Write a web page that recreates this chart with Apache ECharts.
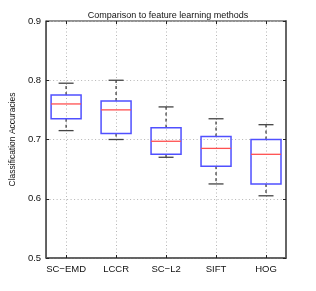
<!DOCTYPE html>
<html><head><meta charset="utf-8">
<script src="https://cdn.jsdelivr.net/npm/echarts@6/dist/echarts.min.js"></script>
<style>html,body{margin:0;padding:0;background:#fff}#c{width:316px;height:291px}</style>
</head><body><div id="c"></div>
<script>
const categories = ['SC\u2212EMD', 'LCCR', 'SC\u2212L2', 'SIFT', 'HOG'];
const whiskerLow  = [0.715, 0.700, 0.670, 0.625, 0.605];
const quartile1   = [0.735, 0.710, 0.675, 0.655, 0.625];
const medians     = [0.760, 0.750, 0.697, 0.685, 0.675];
const quartile3   = [0.775, 0.765, 0.720, 0.705, 0.700];
const whiskerHigh = [0.795, 0.800, 0.755, 0.735, 0.725];
const yTicks = [0.5, 0.6, 0.7, 0.8, 0.9];

const data = categories.map((c, i) => [i + 1, whiskerLow[i], quartile1[i], medians[i], quartile3[i], whiskerHigh[i]]);
const font = 'Liberation Sans, Arial, Helvetica, sans-serif';
const chart = echarts.init(document.getElementById('c'), null, {renderer: 'canvas'});
const xPos = categories.map((c, i) => i + 1);

chart.setOption({
  backgroundColor: '#fff',
  animation: false,
  title: {text: 'Comparison to feature learning methods', left: 163, top: 6, textAlign: 'center',
    textStyle: {fontSize: 9, fontWeight: 'normal', color: '#111', fontFamily: font}},
  grid: {left: 41.5, right: 30, top: 21, bottom: 33, show: true, borderColor: '#222', borderWidth: 1, backgroundColor: 'transparent'},
  xAxis: [{
    type: 'value', min: 0.6, max: 5.4, position: 'bottom',
    axisLine: {show: true, lineStyle: {color: '#555', width: 1.5}},
    axisTick: {show: true, inside: true, length: 3, customValues: xPos, lineStyle: {color: '#222'}},
    axisLabel: {show: true, customValues: xPos, formatter: v => categories[Math.round(v) - 1] || '', fontSize: 9.5, color: '#111', fontFamily: font, margin: 6},
    splitLine: {show: true, lineStyle: {color: '#b5b5b5', type: [1, 2.5], width: 1}}
  }, {
    type: 'value', min: 0.6, max: 5.4, position: 'top',
    axisLine: {show: false},
    axisTick: {show: true, inside: true, length: 3, customValues: xPos, lineStyle: {color: '#222'}},
    axisLabel: {show: false}, splitLine: {show: false}
  }],
  yAxis: [{
    type: 'value', min: 0.5, max: 0.9, interval: 0.1, position: 'left',
    name: 'Classification Accuracies', nameLocation: 'middle', nameGap: 24,
    nameTextStyle: {fontSize: 8.5, color: '#111', fontFamily: font},
    axisLine: {show: true, lineStyle: {color: '#555', width: 1.5}},
    axisTick: {show: true, inside: true, length: 3, lineStyle: {color: '#222'}},
    axisLabel: {formatter: v => v.toFixed(1), fontSize: 9.5, color: '#111', fontFamily: font, margin: 5},
    splitLine: {show: true, lineStyle: {color: '#b5b5b5', type: [1, 2.5], width: 1}}
  }, {
    type: 'value', min: 0.5, max: 0.9, interval: 0.1, position: 'right',
    axisLine: {show: true, lineStyle: {color: '#666', width: 2}},
    axisTick: {show: true, inside: true, length: 3, lineStyle: {color: '#222'}},
    axisLabel: {show: false}, splitLine: {show: false}
  }],
  series: [{
    type: 'custom',
    xAxisIndex: 0, yAxisIndex: 0,
    data: data,
    encode: {x: 0, y: [1, 2, 3, 4, 5]},
    renderItem: function (params, api) {
      const x = api.value(0);
      const pMin = api.coord([x, api.value(1)]);
      const pQ1 = api.coord([x, api.value(2)]);
      const pMed = api.coord([x, api.value(3)]);
      const pQ3 = api.coord([x, api.value(4)]);
      const pMax = api.coord([x, api.value(5)]);
      const bw = api.size([0.3, 0])[0];
      const cw = api.size([0.15, 0])[0];
      const cx = pMed[0];
      const dash = {stroke: '#333', lineWidth: 1.2, lineDash: [3, 3]};
      const solid = (c) => ({stroke: c, lineWidth: 1.3});
      return {type: 'group', children: [
        {type: 'line', shape: {x1: cx, y1: pQ3[1], x2: cx, y2: pMax[1]}, style: dash},
        {type: 'line', shape: {x1: cx, y1: pQ1[1], x2: cx, y2: pMin[1]}, style: dash},
        {type: 'line', shape: {x1: cx - cw, y1: pMax[1], x2: cx + cw, y2: pMax[1]}, style: solid('#444')},
        {type: 'line', shape: {x1: cx - cw, y1: pMin[1], x2: cx + cw, y2: pMin[1]}, style: solid('#444')},
        {type: 'rect', shape: {x: cx - bw, y: pQ3[1], width: 2 * bw, height: pQ1[1] - pQ3[1]}, style: {fill: 'none', stroke: '#5050ff', lineWidth: 1.5}},
        {type: 'line', shape: {x1: cx - bw, y1: pMed[1], x2: cx + bw, y2: pMed[1]}, style: {stroke: '#ff5050', lineWidth: 1.3}}
      ]};
    }
  }]
});
</script></body></html>
